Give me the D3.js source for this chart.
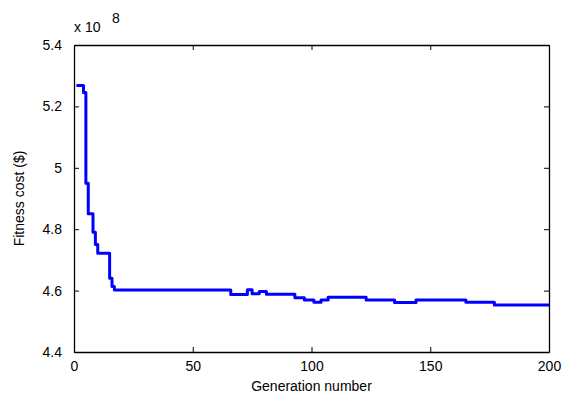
<!DOCTYPE html>
<html lang="en">
<head>
  <meta charset="utf-8">
  <title>Fitness cost vs generation</title>
  <script src="https://d3js.org/d3.v7.min.js"></script>
  <style>
    body { margin: 0; background: #fff; }
    svg text { font-family: Arial, "Liberation Sans", sans-serif; fill: #000; }
    .line { fill: none; stroke: #0000ff; stroke-width: 3px; stroke-linejoin: round; }
  </style>
</head>
<body>
<div id="chart"></div>
<script>
  // generation where the best cost changes, and the cost (x 1e8 $) from then on
  var generations = [1, 4, 5, 6, 8, 9, 10, 15, 16, 17, 66, 73, 75, 78, 81, 93, 97, 101, 104, 107, 123, 135, 144, 165, 177, 200];
  var costs = [5.268, 5.245, 4.95, 4.85, 4.79, 4.75, 4.722, 4.64, 4.613, 4.602, 4.587, 4.603, 4.59, 4.597, 4.588,
    4.577, 4.569, 4.562, 4.569, 4.578, 4.569, 4.561, 4.569, 4.562, 4.553, 4.553];
  var xTicks = [0, 50, 100, 150, 200];
  var yTicks = [4.4, 4.6, 4.8, 5, 5.2, 5.4];

  var width = 564, height = 401;
  var plot = { left: 74, right: 549, top: 45, bottom: 352 };

  var svg = d3.select("#chart").append("svg")
    .attr("width", width)
    .attr("height", height);

  var x = d3.scaleLinear().domain([0, 200]).range([plot.left, plot.right]);
  var y = d3.scaleLinear().domain([4.4, 5.4]).range([plot.bottom, plot.top]);

  var data = generations.map(function (g, i) { return { gen: g, cost: costs[i] }; });

  // the curve
  svg.append("path")
    .datum(data)
    .attr("class", "line")
    .attr("d", d3.line()
      .curve(d3.curveStepAfter)
      .x(function (d) { return x(d.gen); })
      .y(function (d) { return y(d.cost); }));

  var fmt = function (d) { return String(+d.toFixed(1)); };

  // axes, MATLAB style: inward ticks on all four sides
  svg.append("g")
    .attr("transform", "translate(0," + plot.bottom + ")")
    .call(d3.axisBottom(x).tickValues(xTicks).tickSizeInner(-5).tickSizeOuter(0).tickPadding(9).tickFormat(fmt));
  svg.append("g")
    .attr("transform", "translate(0," + plot.top + ")")
    .call(d3.axisTop(x).tickValues(xTicks).tickSizeInner(-5).tickSizeOuter(0).tickFormat(""));
  svg.append("g")
    .attr("transform", "translate(" + plot.left + ",0)")
    .call(d3.axisLeft(y).tickValues(yTicks).tickSizeInner(-5).tickSizeOuter(0).tickPadding(12).tickFormat(fmt));
  svg.append("g")
    .attr("transform", "translate(" + plot.right + ",0)")
    .call(d3.axisRight(y).tickValues(yTicks).tickSizeInner(-5).tickSizeOuter(0).tickFormat(""));

  svg.selectAll(".domain").attr("stroke", "#000").attr("stroke-width", 1.3);
  svg.selectAll(".tick line").attr("stroke", "#000");
  svg.selectAll(".tick text").style("font-size", "14px");

  // exponent label
  svg.append("text").attr("x", 74).attr("y", 32).style("font-size", "14px").text("x 10");
  svg.append("text").attr("x", 112).attr("y", 23).style("font-size", "14px").text("8");

  // axis titles
  svg.append("text")
    .attr("x", (plot.left + plot.right) / 2)
    .attr("y", 391)
    .attr("text-anchor", "middle")
    .style("font-size", "14px")
    .text("Generation number");
  svg.append("text")
    .attr("transform", "translate(24," + (plot.top + plot.bottom) / 2 + ") rotate(-90)")
    .attr("text-anchor", "middle")
    .style("font-size", "14px")
    .text("Fitness cost ($)");
</script>
</body>
</html>
